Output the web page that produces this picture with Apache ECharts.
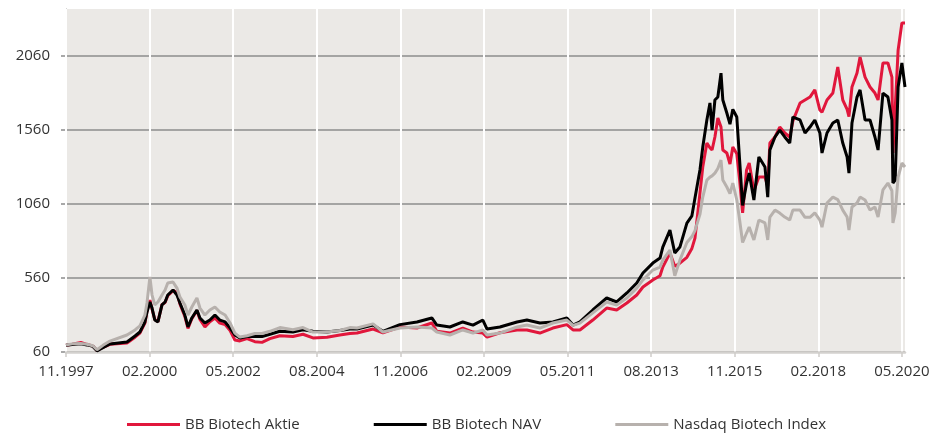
<!DOCTYPE html>
<html><head><meta charset="utf-8">
<script src="https://cdn.jsdelivr.net/npm/echarts@6/dist/echarts.min.js"></script>
<style>html,body{margin:0;padding:0;background:#fff}#c{width:941px;height:433px}</style>
</head><body><div id="c"></div>
<script>
const dates = ['1997-11-01','1998-01-01','1998-03-26','1998-05-24','1998-07-22','1998-09-01','1998-10-30','1999-01-07','1999-06-22','1999-09-10',
'1999-10-28','1999-12-16','2000-01-06','2000-02-04','2000-02-24','2000-03-22','2000-04-22','2000-06-01','2000-07-01','2000-07-28',
'2000-09-18','2000-10-27','2000-11-25','2001-01-13','2001-02-12','2001-03-21','2001-05-10','2001-06-09','2001-07-28','2001-09-15',
'2001-11-04','2001-12-22','2002-02-12','2002-04-01','2002-05-18','2002-07-06','2002-09-15','2002-12-01','2003-02-10','2003-04-27',
'2003-08-04','2003-12-10','2004-03-18','2004-06-24','2004-11-10','2005-03-15','2005-06-22','2005-09-01','2006-02-06','2006-05-12',
'2006-10-27','2007-04-12','2007-09-06','2007-10-25','2008-03-01','2008-07-06','2008-10-15','2009-01-21','2009-03-01','2009-07-06',
'2009-12-22','2010-03-28','2010-08-03','2010-12-09','2011-04-24','2011-06-24','2011-09-01','2012-01-06','2012-05-21','2012-08-28',
'2012-12-06','2013-03-12','2013-05-12','2013-08-18','2013-10-28','2013-11-24','2014-02-03','2014-03-21','2014-05-10','2014-07-18',
'2014-09-06','2014-10-06','2014-11-24','2014-12-22','2015-02-01','2015-03-01','2015-03-22','2015-04-19','2015-05-18','2015-06-18',
'2015-07-06','2015-08-15','2015-09-15','2015-10-13','2015-11-21','2015-12-19','2016-01-18','2016-02-25','2016-03-22','2016-05-07',
'2016-06-25','2016-08-25','2016-09-21','2016-10-12','2016-12-01','2017-01-18','2017-03-06','2017-04-24','2017-05-25','2017-08-04',
'2017-09-22','2017-11-10','2017-12-28','2018-02-15','2018-03-07','2018-04-25','2018-06-22','2018-08-10','2018-09-28','2018-11-10',
'2018-11-28','2018-12-28','2019-02-15','2019-03-16','2019-05-04','2019-06-22','2019-08-10','2019-09-10','2019-10-28','2019-12-16',
'2020-01-25','2020-02-04','2020-02-25','2020-03-25','2020-05-01','2020-06-01'];
const aktie = [105,112,125,112,100,70,92,112,121,160,
188,255,335,411,350,280,265,380,395,440,
475,465,385,300,220,285,340,280,229,265,
290,255,245,205,141,135,150,130,125,150,
170,165,180,155,160,175,185,188,215,190,
229,222,256,200,188,222,195,188,161,190,
209,209,188,222,245,209,209,276,357,344,
391,445,499,547,575,634,729,640,660,700,
760,830,1134,1310,1472,1440,1425,1513,1641,1580,
1425,1405,1330,1445,1400,1222,1000,1290,1337,1150,
1242,1242,1180,1472,1513,1580,1540,1513,1620,1743,
1763,1783,1831,1695,1680,1763,1810,1986,1763,1700,
1650,1851,1945,2053,1918,1851,1810,1763,2013,2013,
1918,1405,1700,2100,2283,2283];
const nav = [105,110,115,108,98,68,90,114,128,168,
195,263,330,398,357,276,263,378,398,445,
479,445,391,310,229,290,344,290,256,276,
310,276,263,222,175,155,165,165,165,180,
200,195,210,200,195,205,215,215,242,200,
245,263,290,242,229,263,242,276,215,229,
263,276,256,263,290,242,263,344,425,398,
459,526,594,661,695,769,884,729,769,931,
980,1100,1290,1445,1628,1743,1560,1763,1783,1945,
1763,1675,1600,1700,1648,1357,1050,1200,1269,1087,
1378,1310,1107,1425,1513,1560,1513,1472,1648,1628,
1540,1580,1628,1540,1405,1540,1607,1628,1472,1378,
1269,1607,1783,1831,1628,1628,1513,1425,1810,1783,
1628,1202,1222,1851,2013,1851];
const nasdaq = [108,115,117,112,102,75,105,134,175,209,
236,310,391,567,445,378,398,445,479,526,
533,492,432,378,310,364,425,357,310,344,
364,330,310,256,188,161,170,185,185,200,
225,210,225,195,195,205,225,222,250,195,
222,229,222,195,175,209,188,209,175,188,
229,242,222,256,276,240,255,324,398,378,
425,492,547,614,634,681,749,575,681,800,
840,880,990,1107,1222,1242,1250,1269,1300,1357,
1222,1175,1130,1202,1087,952,800,864,904,817,
952,932,817,972,1019,999,972,952,1019,1019,
970,970,1000,952,904,1067,1107,1090,1019,972,
884,1040,1067,1107,1087,1019,1040,972,1155,1202,
1150,932,1000,1242,1337,1310];
const seriesNames = ['BB Biotech Aktie','BB Biotech NAV','Nasdaq Biotech Index'];
const seriesColors = ['#e1173c','#000000','#b7b1ad'];
const yTicks = [60,560,1060,1560,2060];
const xTickLabels = ['11.1997','02.2000','05.2002','08.2004','11.2006','02.2009','05.2011','08.2013','11.2015','02.2018','05.2020'];
const xStart = '11.1997', xEnd = '06.2020';

// month offset from the start month (fractional by day)
function monthsFrom(y, m, d) {
  const [sm, sy] = xStart.split('.').map(Number);
  const dim = new Date(y, m, 0).getDate();
  return (y - sy) * 12 + (m - sm) + (d - 1) / dim;
}
const dateToX = s => { const [y, m, d] = s.split('-').map(Number); return monthsFrom(y, m, d); };
const labelToX = s => { const [m, y] = s.split('.').map(Number); return monthsFrom(y, m, 1); };
const xTickValues = xTickLabels.map(labelToX);
const xLabelMap = {}; xTickLabels.forEach((l, i) => xLabelMap[Math.round(xTickValues[i])] = l);

const FONT = 'Open Sans';
const chart = echarts.init(document.getElementById('c'), null, {renderer:'canvas'});
const values = [aktie, nav, nasdaq];
chart.setOption({
  animation: false,
  textStyle: {fontFamily: FONT},
  grid: {left: 66, right: 36, top: 9, bottom: 81, show: true, backgroundColor: '#ebe9e6', borderWidth: 0},
  xAxis: {
    type: 'value', min: 0, max: labelToX(xEnd), z: 1,
    axisLine: {show: true, lineStyle: {color: '#d3d1ce', width: 2.5}},
    axisTick: {show: true, length: 5, customValues: xTickValues, lineStyle: {color: '#cfcdca', width: 1.5}},
    axisLabel: {customValues: xTickValues, margin: 12, fontSize: 15, color: '#333', fontFamily: FONT,
      formatter: v => xLabelMap[Math.round(v)] || ''},
    splitLine: {show: true, lineStyle: {color: '#ffffff', width: 2}}
  },
  yAxis: {
    type: 'value', min: 60, max: 2378, z: 0,
    axisLine: {show: true, lineStyle: {color: '#9a9a9a', width: 1}},
    axisTick: {show: true, length: 5, customValues: yTicks, lineStyle: {color: '#8c8c8c', width: 1.5}},
    axisLabel: {customValues: yTicks, margin: 16, fontSize: 15, color: '#333', fontFamily: FONT,
      formatter: v => String(v)},
    splitLine: {show: true, lineStyle: {color: '#8c8c8c', width: 1.5}}
  },
  legend: {
    left: 127, top: 417, padding: 0, icon: 'rect', itemWidth: 53, itemHeight: 3, itemGap: 74,
    textStyle: {fontSize: 15, color: '#333', fontFamily: FONT},
    data: seriesNames
  },
  series: seriesNames.map((name, k) => ({
    name, type: 'line', showSymbol: false, symbol: 'none', z: 3,
    color: seriesColors[k],
    lineStyle: {width: 3, color: seriesColors[k]},
    data: dates.map((d, i) => [dateToX(d), values[k][i]])
  }))
});
</script></body></html>
